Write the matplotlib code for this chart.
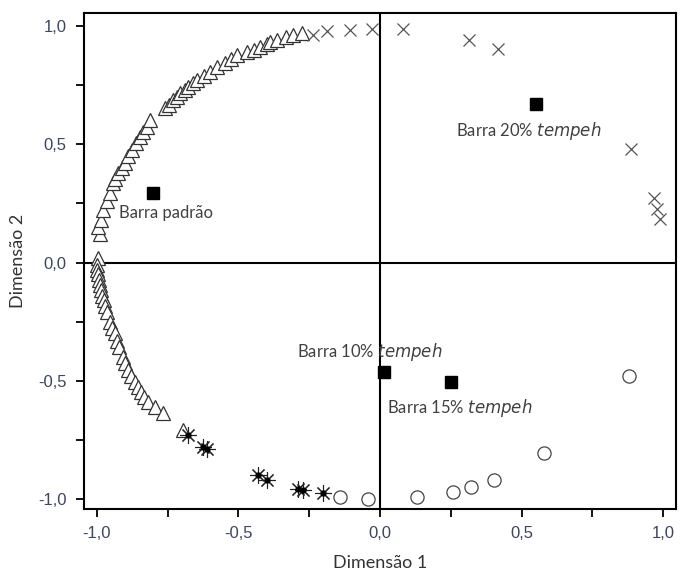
import matplotlib.pyplot as plt
from matplotlib.ticker import MultipleLocator

plt.rcParams['font.family'] = ['Lato', 'DejaVu Sans']

# triangulos - atributos (semicirculo esquerdo)
tri_x = [-0.99, -0.995, -0.985, -0.979, -0.965, -0.954, -0.943, -0.935, -0.926, -0.912,
         -0.901, -0.888, -0.876, -0.862, -0.848, -0.835, -0.823, -0.813, -0.760, -0.745,
         -0.731, -0.718, -0.707, -0.690, -0.678, -0.660, -0.647, -0.620, -0.601, -0.575,
         -0.548, -0.525, -0.505, -0.470, -0.445, -0.424, -0.400, -0.389, -0.364, -0.330,
         -0.307, -0.276,
         -0.996, -1.0, -0.998, -0.996, -0.993, -0.99, -0.985, -0.98, -0.975, -0.97,
         -0.962, -0.954, -0.945, -0.936, -0.928, -0.92, -0.908, -0.90, -0.89, -0.878,
         -0.866, -0.855, -0.845, -0.832, -0.82, -0.795, -0.767, -0.696]
tri_y = [0.12, 0.15, 0.18, 0.222, 0.26, 0.294, 0.336, 0.355, 0.378, 0.40,
         0.421, 0.45, 0.476, 0.505, 0.531, 0.552, 0.573, 0.603, 0.653, 0.668,
         0.687, 0.70, 0.717, 0.730, 0.742, 0.758, 0.772, 0.79, 0.805, 0.825,
         0.844, 0.862, 0.877, 0.890, 0.90, 0.911, 0.922, 0.932, 0.941, 0.952,
         0.962, 0.970,
         0.02, -0.01, -0.03, -0.05, -0.074, -0.095, -0.116, -0.14, -0.16, -0.185,
         -0.21, -0.25, -0.275, -0.30, -0.33, -0.357, -0.40, -0.425, -0.455, -0.48,
         -0.505, -0.525, -0.548, -0.57, -0.59, -0.61, -0.638, -0.708]

# cruzes
cross_x = [-0.238, -0.188, -0.107, -0.028, 0.082, 0.313, 0.416, 0.888, 0.966, 0.977, 0.988]
cross_y = [0.964, 0.977, 0.985, 0.989, 0.989, 0.943, 0.901, 0.480, 0.274, 0.227, 0.185]

# asteriscos
ast_x = [-0.678, -0.625, -0.610, -0.431, -0.399, -0.290, -0.270, -0.201]
ast_y = [-0.729, -0.780, -0.788, -0.899, -0.920, -0.958, -0.962, -0.975]

# circulos
circ_x = [-0.141, -0.042, 0.131, 0.258, 0.322, 0.403, 0.580, 0.880]
circ_y = [-0.991, -1.0, -0.991, -0.970, -0.949, -0.920, -0.806, -0.480]

# amostras
amostras = ['Barra padrão', 'Barra 20%', 'Barra 10%', 'Barra 15%']
am_x = [-0.802, 0.551, 0.014, 0.250]
am_y = [0.294, 0.670, -0.463, -0.505]

fig = plt.figure(figsize=(6.8, 5.79), dpi=100)
ax = fig.add_axes([0.1235, 0.121, 0.8705, 0.8565])

ax.axhline(0, color='black', lw=1.5, zorder=1)
ax.axvline(0, color='black', lw=1.5, zorder=1)

ax.plot(tri_x, tri_y, ls='none', marker='^', ms=10, mfc='white', mec='#333333', mew=0.9, zorder=3)
ax.plot(cross_x, cross_y, ls='none', marker='x', ms=9, mec='#555555', mew=0.9, zorder=3)
ax.plot(ast_x, ast_y, ls='none', marker=(8, 2, 0), ms=12, mec='#222222', mew=0.8, zorder=3)
ax.plot(ast_x, ast_y, ls='none', marker='o', ms=3.5, mfc='black', mec='black', zorder=3)
ax.plot(circ_x, circ_y, ls='none', marker='o', ms=9.5, mfc='white', mec='#444444', mew=0.9, zorder=3)
ax.plot(am_x, am_y, ls='none', marker='s', ms=8.5, mfc='black', mec='black', zorder=4)

txt = dict(fontsize=12, color='#404040', va='center')
ax.text(-0.92, 0.21, 'Barra padrão', **txt)
ax.text(0.268, 0.556, 'Barra 20% $\\it{tempeh}$', **txt)
ax.text(-0.293, -0.379, 'Barra 10% $\\it{tempeh}$', **txt)
ax.text(0.025, -0.615, 'Barra 15% $\\it{tempeh}$', **txt)

ax.set_xlim(-1.045, 1.045)
ax.set_ylim(-1.042, 1.055)
ticks = [-1.0, -0.5, 0.0, 0.5, 1.0]
labels = ['-1,0', '-0,5', '0,0', '0,5', '1,0']
ax.set_xticks(ticks, labels)
ax.set_yticks(ticks, labels)
ax.xaxis.set_minor_locator(MultipleLocator(0.25))
ax.yaxis.set_minor_locator(MultipleLocator(0.25))
ax.tick_params(which='both', direction='out', length=5.5, width=1.3, pad=7)
for lab in ax.get_xticklabels() + ax.get_yticklabels():
    lab.set_family(['Liberation Sans', 'DejaVu Sans'])
    lab.set_fontsize(12)
    lab.set_color('#3c4660')
for s in ax.spines.values():
    s.set_linewidth(1.5)

ax.set_xlabel('Dimensão 1', fontsize=13, color='#333333', labelpad=10)
ax.set_ylabel('Dimensão 2', fontsize=13, color='#333333', labelpad=9)

fig.savefig('out.png', dpi=100)
